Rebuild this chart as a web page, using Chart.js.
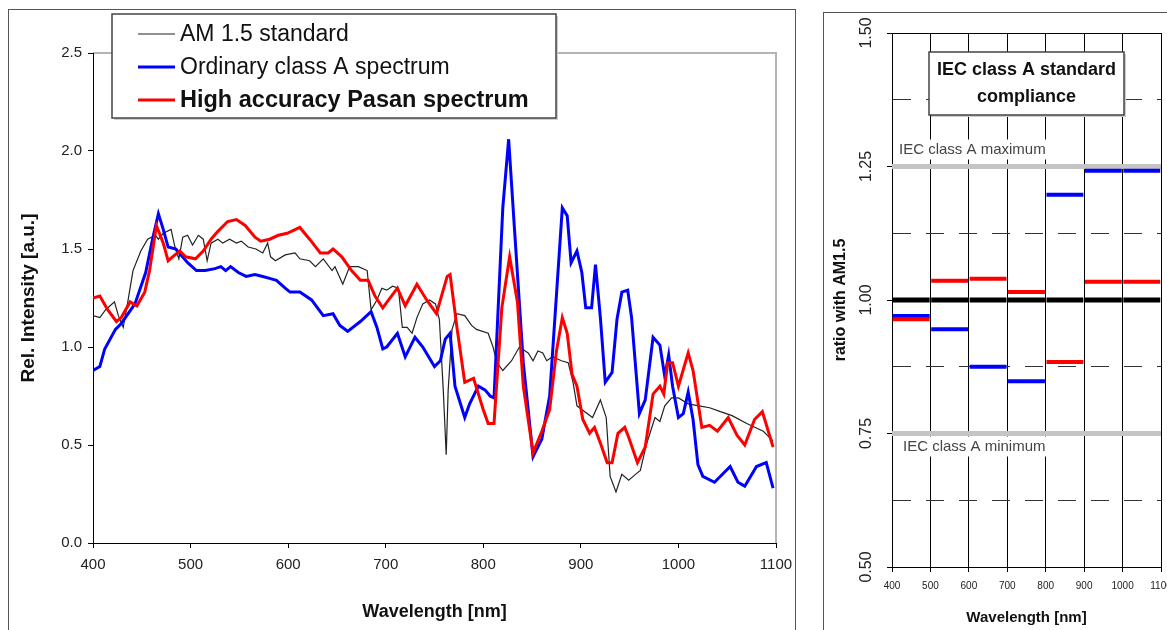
<!DOCTYPE html>
<html>
<head>
<meta charset="utf-8">
<script src="https://cdn.jsdelivr.net/npm/chart.js@4.4.0/dist/chart.umd.min.js"></script>
<style>
  body { margin: 0; width: 1167px; height: 630px; overflow: hidden; background: #fff; font-family: "Liberation Sans", Arial, sans-serif; }
  #left { position: absolute; left: 8px; top: 9px; width: 786px; height: 640px; border: 1px solid #555; border-bottom: none; }
  #right { position: absolute; left: 823px; top: 12px; width: 380px; height: 640px; border-left: 1px solid #555; border-top: 1px solid #555; }
  canvas { position: absolute; left: 0; top: 0; }
</style>
</head>
<body>
<div id="left"><canvas id="spectrum" width="786" height="620"></canvas></div>
<div id="right"><canvas id="ratio" width="360" height="620"></canvas></div>
<script>
// spectrum panel
const amWl = [400,407,413,422,426,431,436,441,449,456,464,467,472,480,484,488,492,497,502,508,513,517,521,528,533,540,547,552,559,567,574,579,582,587,597,607,612,622,628,636,645,648,656,663,672,681,685,691,696,701,707,713,717,722,727,732,738,745,751,755,759,762,764,768,773,781,788,793,805,810,814,820,829,837,846,851,856,861,865,871,880,887,892,896,904,912,920,926,930,936,942,949,956,961,967,976,981,986,993,1000,1010,1021,1032,1043,1055,1070,1087,1097]
const amVal = [1.16,1.15,1.19,1.23,1.16,1.10,1.24,1.39,1.49,1.55,1.57,1.55,1.58,1.60,1.51,1.45,1.56,1.57,1.52,1.57,1.55,1.44,1.53,1.55,1.53,1.55,1.53,1.54,1.51,1.50,1.48,1.53,1.46,1.44,1.47,1.48,1.45,1.44,1.41,1.45,1.39,1.41,1.32,1.41,1.41,1.39,1.19,1.24,1.30,1.29,1.31,1.30,1.10,1.10,1.07,1.15,1.22,1.24,1.22,1.14,0.78,0.45,0.78,1.09,1.17,1.16,1.11,1.09,1.07,1.00,0.92,0.88,0.93,1.00,0.97,0.93,0.98,0.97,0.93,0.95,0.93,0.92,0.82,0.70,0.67,0.64,0.73,0.64,0.34,0.26,0.35,0.32,0.35,0.37,0.50,0.64,0.62,0.70,0.74,0.74,0.71,0.70,0.69,0.67,0.65,0.61,0.57,0.52]

const blueWl = [400,407,412,423,429,443,454,461,467,472,477,485,490,497,506,515,525,531,536,541,549,557,566,574,581,588,597,602,612,624,636,646,653,661,674,685,691,697,701,712,720,730,738,750,756,761,766,771,781,786,795,802,807,811,820,826,832,841,851,860,868,876,881,886,890,896,901,905,911,915,920,925,932,937,942,948,952,960,966,974,981,986,990,994,1000,1005,1010,1015,1020,1025,1037,1053,1061,1068,1080,1090,1097]
const blueVal = [0.88,0.90,0.99,1.09,1.12,1.22,1.38,1.55,1.68,1.60,1.51,1.50,1.47,1.43,1.39,1.39,1.40,1.41,1.39,1.41,1.38,1.36,1.37,1.36,1.35,1.34,1.30,1.28,1.28,1.24,1.16,1.17,1.11,1.08,1.13,1.18,1.10,0.99,1.00,1.07,0.95,1.05,1.00,0.90,0.93,1.04,1.07,0.80,0.64,0.71,0.80,0.78,0.75,0.74,1.71,2.06,1.60,0.92,0.44,0.53,0.75,1.34,1.71,1.67,1.43,1.49,1.38,1.20,1.20,1.42,1.15,0.82,0.87,1.14,1.28,1.29,1.15,0.66,0.73,1.05,1.01,0.85,0.96,0.80,0.64,0.66,0.77,0.63,0.40,0.34,0.31,0.39,0.31,0.29,0.39,0.41,0.28]

const redWl = [400,407,415,424,429,438,445,453,458,465,472,477,484,489,495,505,513,521,528,538,547,556,566,572,581,590,599,612,622,633,641,646,655,665,674,682,689,697,703,712,720,732,742,752,763,766,773,781,790,800,805,811,819,827,835,841,851,860,868,875,881,886,891,896,902,909,914,920,927,932,938,945,949,958,966,974,981,985,989,994,1000,1010,1015,1024,1032,1040,1051,1060,1068,1078,1086,1097]
const redVal = [1.25,1.26,1.19,1.13,1.15,1.23,1.21,1.28,1.39,1.62,1.53,1.44,1.47,1.49,1.46,1.45,1.49,1.55,1.59,1.64,1.65,1.62,1.56,1.54,1.55,1.57,1.58,1.61,1.55,1.48,1.48,1.50,1.46,1.39,1.34,1.34,1.26,1.20,1.24,1.30,1.21,1.32,1.24,1.17,1.36,1.37,1.10,0.82,0.84,0.68,0.61,0.61,1.20,1.46,1.23,0.80,0.46,0.57,0.68,0.98,1.15,1.07,0.86,0.80,0.63,0.56,0.59,0.51,0.41,0.41,0.56,0.59,0.54,0.41,0.49,0.76,0.80,0.76,0.92,0.92,0.80,0.97,0.88,0.59,0.60,0.57,0.64,0.55,0.50,0.63,0.67,0.49]

const seriesNames = ['AM 1.5 standard', 'Ordinary class A spectrum', 'High accuracy Pasan spectrum']

// ratio panel: one value per 100 nm band
const bandStart = [400, 500, 600, 700, 800, 900, 1000]
const bandWidth = 100
const amRatio = [1.00, 1.00, 1.00, 1.00, 1.00, 1.00, 1.00]
const blueRatio = [0.970, 0.945, 0.875, 0.848, 1.197, 1.242, 1.242]
const redRatio = [0.964, 1.036, 1.040, 1.015, 0.884, 1.034, 1.034]
const classMax = 1.25
const classMin = 0.75

const FONT = '"Liberation Sans", Arial, sans-serif'

function toPoints(xs, ys) {
  return xs.map((x, i) => ({ x, y: ys[i] }))
}

function bandSegments(levels) {
  const pts = []
  bandStart.forEach((s, i) => {
    pts.push({ x: s + 2, y: levels[i] })
    pts.push({ x: s + bandWidth - 2, y: levels[i] })
    pts.push({ x: s + bandWidth, y: null })
  })
  return pts
}

function isQuarter(v) {
  return Math.abs(v * 4 - Math.round(v * 4)) < 1e-6
}

const spectrumPlugin = {
  id: 'spectrumDeco',
  beforeDraw(chart) {
    // light grey top and right edge of the plot area
    const { ctx, chartArea: a } = chart
    ctx.save()
    ctx.strokeStyle = '#b4b4b4'
    ctx.lineWidth = 2
    ctx.beginPath()
    ctx.moveTo(a.left, a.top)
    ctx.lineTo(a.right, a.top)
    ctx.lineTo(a.right, a.bottom)
    ctx.stroke()
    ctx.restore()
  },
  afterDraw(chart) {
    const ctx = chart.ctx
    const box = { x: 103, y: 4, w: 444, h: 104 }
    ctx.save()
    ctx.fillStyle = '#cfcfcf'
    ctx.fillRect(box.x + 2, box.y + 2, box.w, box.h)
    ctx.fillStyle = '#fff'
    ctx.fillRect(box.x, box.y, box.w, box.h)
    ctx.strokeStyle = '#444'
    ctx.lineWidth = 1.5
    ctx.strokeRect(box.x, box.y, box.w, box.h)
    const rows = [24, 57, 90]
    chart.data.datasets.slice().reverse().forEach((ds, i) => {
      ctx.strokeStyle = ds.borderColor
      ctx.lineWidth = ds.borderWidth
      ctx.beginPath()
      ctx.moveTo(129, rows[i])
      ctx.lineTo(166, rows[i])
      ctx.stroke()
      ctx.fillStyle = '#111'
      ctx.font = i === 2 ? 'bold 23.5px ' + FONT : '23px ' + FONT
      ctx.textBaseline = 'middle'
      ctx.fillText(ds.label, 171, rows[i] + 1)
    })
    ctx.restore()
  }
}

new Chart(document.getElementById('spectrum'), {
  type: 'line',
  data: {
    datasets: [
      { label: seriesNames[2], data: toPoints(redWl, redVal), borderColor: '#ff0000', borderWidth: 3 },
      { label: seriesNames[1], data: toPoints(blueWl, blueVal), borderColor: '#0000ff', borderWidth: 3 },
      { label: seriesNames[0], data: toPoints(amWl, amVal), borderColor: '#222', borderWidth: 1.2 }
    ]
  },
  options: {
    responsive: false,
    animation: false,
    devicePixelRatio: 1,
    layout: { padding: { left: 0, top: 43, right: 19, bottom: 0 } },
    elements: { point: { radius: 0 }, line: { tension: 0 } },
    plugins: { legend: { display: false }, tooltip: { enabled: false } },
    scales: {
      x: {
        type: 'linear', min: 400, max: 1100,
        afterFit: s => { s.height = 87; s.paddingLeft = 0; s.paddingRight = 0 },
        ticks: { stepSize: 100, autoSkip: false, maxRotation: 0, padding: 8, color: '#222', font: { family: FONT, size: 15 }, callback: v => String(v) },
        grid: { drawOnChartArea: false, color: '#000', tickLength: 5 },
        border: { color: '#000', width: 1 },
        title: { display: true, text: 'Wavelength [nm]', color: '#111', padding: { top: 0, bottom: 7 }, font: { family: FONT, size: 18, weight: 'bold' } }
      },
      y: {
        min: 0, max: 2.5,
        afterFit: s => { s.width = 84 },
        ticks: { stepSize: 0.5, padding: 6, color: '#222', font: { family: FONT, size: 15 }, callback: v => v.toFixed(1) },
        grid: { drawOnChartArea: false, color: '#000', tickLength: 5 },
        border: { color: '#000', width: 1 },
        title: { display: true, text: 'Rel. Intensity [a.u.]', color: '#111', padding: { top: 8, bottom: 0 }, font: { family: FONT, size: 19, weight: 'bold' } }
      }
    }
  },
  plugins: [spectrumPlugin]
})

const ratioPlugin = {
  id: 'ratioDeco',
  beforeDatasetsDraw(chart) {
    const { ctx, chartArea: a, scales: { y } } = chart
    ctx.save()
    ctx.font = '15px ' + FONT
    ctx.textBaseline = 'middle'
    const labels = [
      { text: 'IEC class A maximum', x: a.left + 7, y: y.getPixelForValue(classMax) - 17 },
      { text: 'IEC class A minimum', x: a.left + 11, y: y.getPixelForValue(classMin) + 13 }
    ]
    labels.forEach(l => {
      const w = ctx.measureText(l.text).width
      ctx.fillStyle = '#fff'
      ctx.fillRect(l.x - 2, l.y - 10, w + 4, 20)
      ctx.fillStyle = '#444'
      ctx.fillText(l.text, l.x, l.y)
    })
    ctx.restore()
  },
  afterDraw(chart) {
    const { ctx, chartArea: a, scales: { y } } = chart
    ctx.save()
    // rotated y tick labels
    ctx.fillStyle = '#222'
    ctx.font = '16px ' + FONT
    ctx.textAlign = 'center'
    ctx.textBaseline = 'middle'
    y.ticks.forEach(t => {
      if (!isQuarter(t.value)) return
      ctx.save()
      ctx.translate(a.left - 25, y.getPixelForValue(t.value))
      ctx.rotate(-Math.PI / 2)
      ctx.fillText(t.value.toFixed(2), 0, 0)
      ctx.restore()
    })
    // title box
    const box = { x: 105, y: 39, w: 195, h: 63 }
    ctx.fillStyle = '#cfcfcf'
    ctx.fillRect(box.x + 2, box.y + 2, box.w, box.h)
    ctx.fillStyle = '#fff'
    ctx.fillRect(box.x, box.y, box.w, box.h)
    ctx.strokeStyle = '#444'
    ctx.lineWidth = 1.5
    ctx.strokeRect(box.x, box.y, box.w, box.h)
    ctx.fillStyle = '#111'
    ctx.font = 'bold 18px ' + FONT
    ctx.fillText('IEC class A standard', box.x + box.w / 2, box.y + 18)
    ctx.fillText('compliance', box.x + box.w / 2, box.y + 45)
    ctx.restore()
  }
}

new Chart(document.getElementById('ratio'), {
  type: 'line',
  data: {
    datasets: [
      { data: bandSegments(redRatio), borderColor: '#ff0000', borderWidth: 4 },
      { data: bandSegments(blueRatio), borderColor: '#0000ff', borderWidth: 4 },
      { data: bandSegments(amRatio), borderColor: '#000', borderWidth: 5 },
      { data: [{ x: 400, y: classMax }, { x: 1100, y: classMax }], borderColor: '#c4c4c4', borderWidth: 5 },
      { data: [{ x: 400, y: classMin }, { x: 1100, y: classMin }], borderColor: '#c4c4c4', borderWidth: 5 }
    ]
  },
  options: {
    responsive: false,
    animation: false,
    devicePixelRatio: 1,
    spanGaps: false,
    layout: { padding: { left: 0, top: 20, right: 23, bottom: 0 } },
    elements: { point: { radius: 0 }, line: { tension: 0 } },
    plugins: { legend: { display: false }, tooltip: { enabled: false } },
    scales: {
      x: {
        type: 'linear', min: 400, max: 1100,
        afterFit: s => { s.height = 66; s.paddingLeft = 0; s.paddingRight = 0 },
        ticks: { stepSize: 100, autoSkip: false, maxRotation: 0, padding: 8, color: '#222', font: { family: FONT, size: 10 }, callback: v => String(v) },
        grid: { color: '#000', lineWidth: 1, tickLength: 5 },
        border: { color: '#000', width: 1 },
        title: { display: true, text: 'Wavelength [nm]', color: '#111', padding: { top: 0, bottom: 6 }, font: { family: FONT, size: 15, weight: 'bold' } }
      },
      y: {
        min: 0.5, max: 1.5,
        afterFit: s => { s.width = 68 },
        ticks: { stepSize: 0.125, display: false },
        grid: {
          tickLength: 5,
          color: c => {
            const v = c.tick ? c.tick.value : 0
            if (Math.abs(v - 1.5) < 1e-6) return '#000'
            return isQuarter(v) ? 'rgba(0,0,0,0)' : '#333'
          },
          tickColor: c => (c.tick && isQuarter(c.tick.value) ? '#000' : 'rgba(0,0,0,0)')
        },
        border: {
          color: '#000', width: 1,
          dash: c => (c.tick && !isQuarter(c.tick.value) ? [18, 15] : [])
        },
        title: { display: true, text: 'ratio with AM1.5', color: '#111', padding: { top: 7, bottom: 0 }, font: { family: FONT, size: 16, weight: 'bold' } }
      }
    }
  },
  plugins: [ratioPlugin]
})
</script>
</body>
</html>
